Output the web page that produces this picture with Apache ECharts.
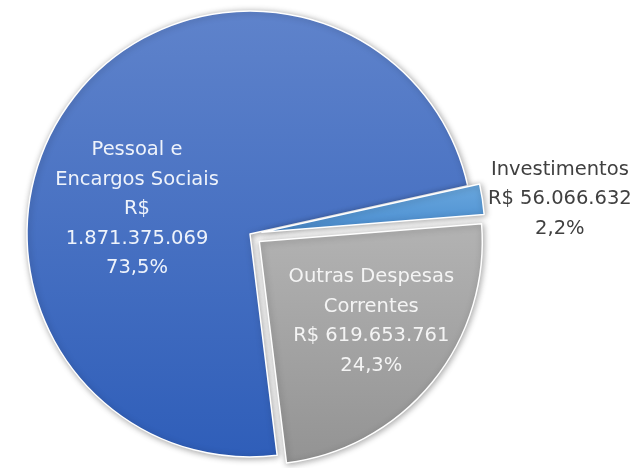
<!DOCTYPE html>
<html>
<head>
<meta charset="utf-8">
<script src="https://cdn.jsdelivr.net/npm/echarts@6/dist/echarts.min.js"></script>
<style>
html,body{margin:0;padding:0;background:#fff;}
#chart{width:636px;height:468px;}
</style>
</head>
<body>
<div id="chart"></div>
<script>
// ---- data ----
var categories = ['Pessoal e\nEncargos Sociais', 'Investimentos', 'Outras Despesas\nCorrentes'];
var values = [1871375069, 56066632, 619653761];
var exploded = [false, true, true];

// ---- styles ----
var gradients = [
  ['#5F83CB', '#2F5EB9'],
  ['#6AA8DE', '#4A8DD0'],
  ['#B3B3B3', '#939393']
];
var labelColors = ['#EEF3FB', '#404040', '#F4F4F4'];
// label centres before the explode offset is added
var labelCenters = [[137, 209], [548, 201], [362, 314]];

function fmtNum(v) {
  return String(v).replace(/\B(?=(\d{3})+(?!\d))/g, '.');
}

var chart = echarts.init(document.getElementById('chart'), null, {renderer: 'canvas'});

var data = categories.map(function (c, i) {
  return {
    name: c,
    value: values[i],
    selected: exploded[i],
    itemStyle: {
      color: new echarts.graphic.LinearGradient(0, 0, 0, 1, [
        {offset: 0, color: gradients[i][0]},
        {offset: 1, color: gradients[i][1]}
      ])
    },
    label: {color: labelColors[i]}
  };
});

chart.setOption({
  animation: false,
  backgroundColor: '#ffffff',
  series: [{
    type: 'pie',
    center: [250, 234],
    radius: [0, 223],
    startAngle: -83,
    clockwise: true,
    selectedMode: 'multiple',
    selectedOffset: 12,
    percentPrecision: 1,
    avoidLabelOverlap: false,
    emphasis: {disabled: true},
    itemStyle: {
      borderColor: '#ffffff',
      borderWidth: 1.5,
      shadowBlur: 6,
      shadowColor: 'rgba(0,0,0,0.35)',
      shadowOffsetX: 1,
      shadowOffsetY: 1
    },
    label: {
      show: true,
      position: 'inside',
      fontFamily: 'DejaVu Sans',
      fontSize: 19.5,
      lineHeight: 29.5,
      align: 'center',
      formatter: function (p) {
        var sep = p.dataIndex === 0 ? '\n' : ' ';
        return p.name + '\nR$' + sep + fmtNum(p.value) + '\n' + p.percent.toFixed(1).replace('.', ',') + '%';
      }
    },
    labelLine: {show: false},
    labelLayout: function (params) {
      var t = labelCenters[params.dataIndex];
      var r = params.labelRect;
      return {
        dx: t[0] - (r.x + r.width / 2),
        dy: t[1] - (r.y + r.height / 2)
      };
    },
    data: data
  }]
});
</script>
</body>
</html>
